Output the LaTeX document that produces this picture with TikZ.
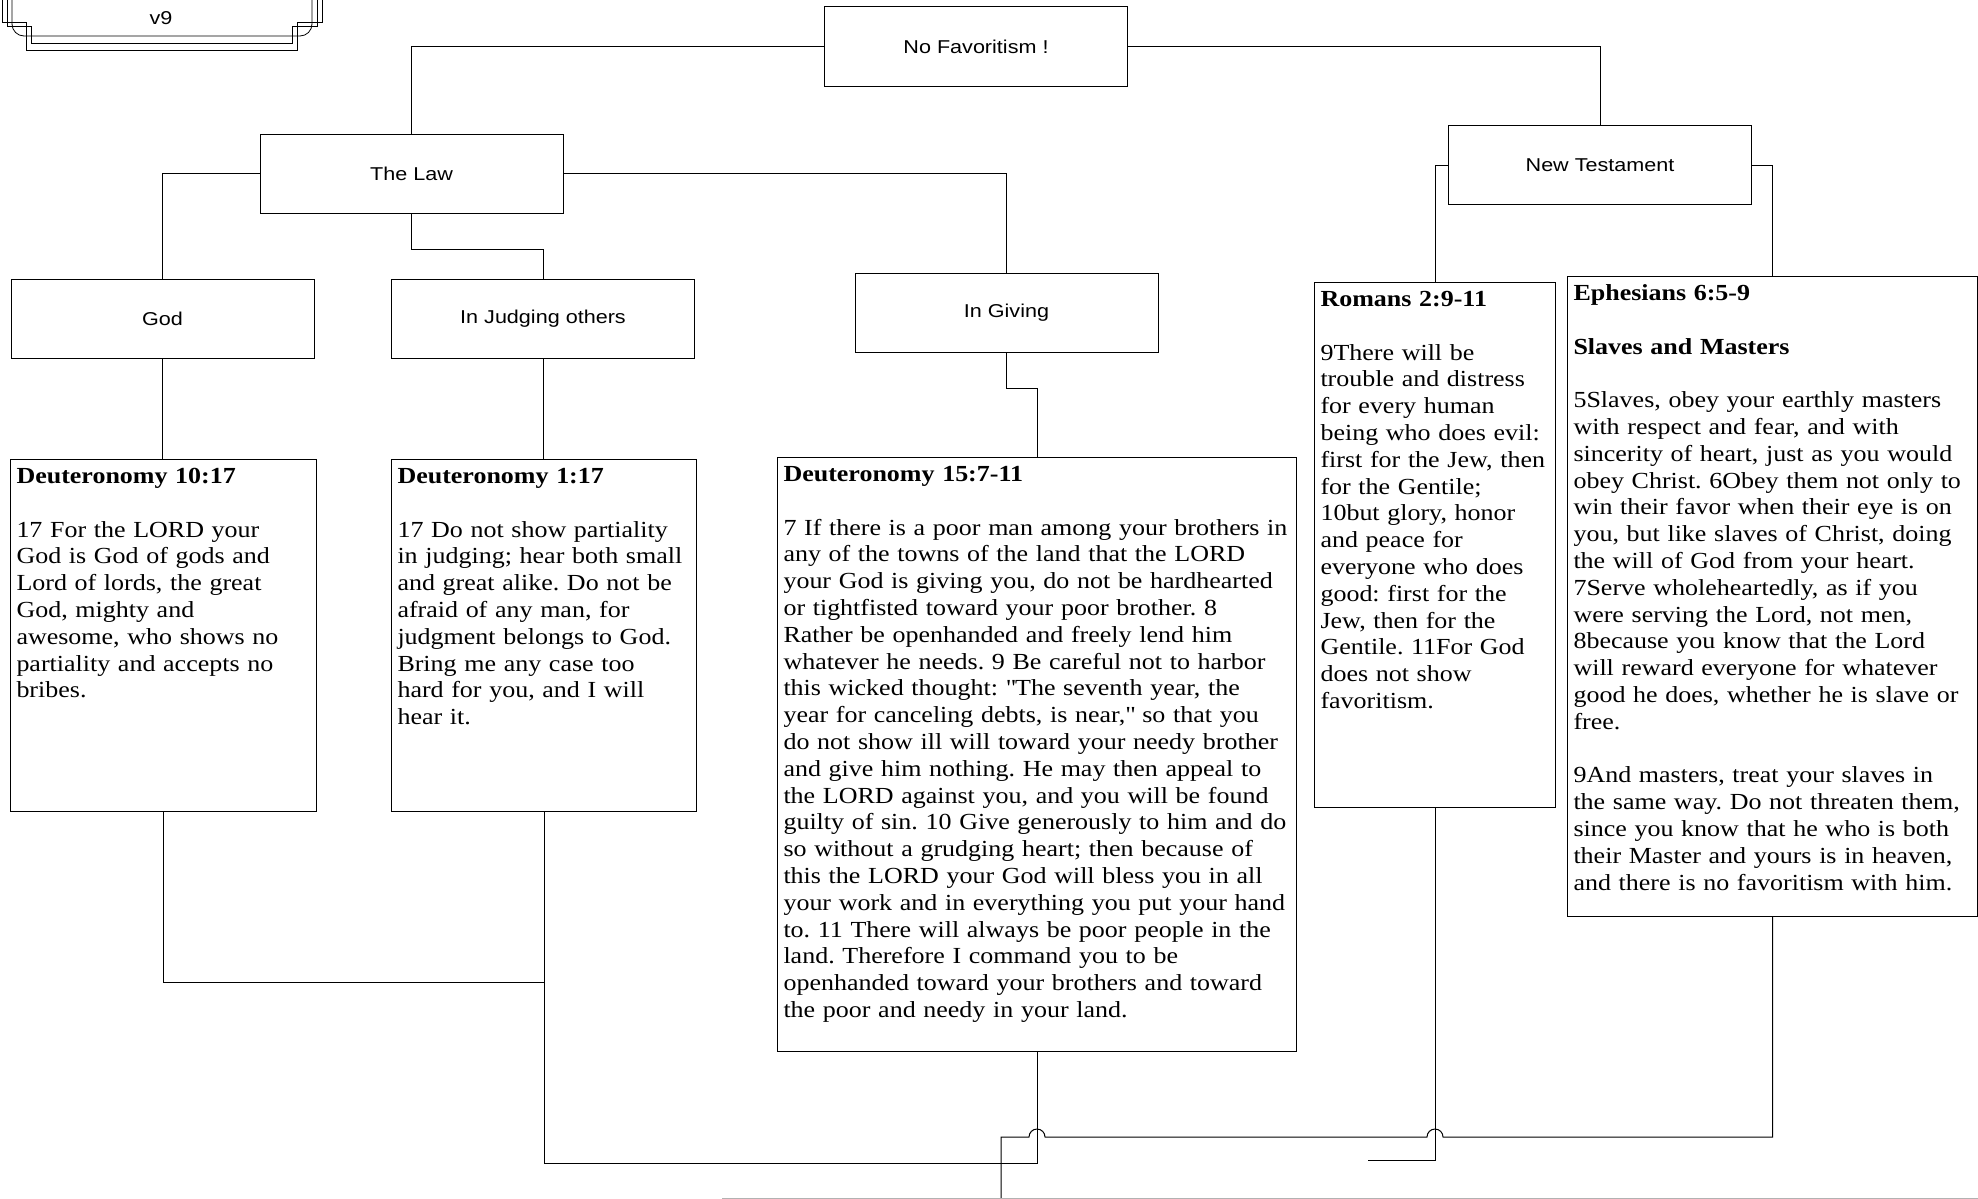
\documentclass[tikz,border=0pt]{standalone}
\usepackage{fontspec}
\setmainfont[FakeStretch=1.13]{Liberation Serif}
\newfontfamily\labelfont[FakeStretch=1.16]{Liberation Sans}
\usetikzlibrary{calc}
\frenchspacing

\begin{document}
\begin{tikzpicture}[x=1pt, y=-1pt, line width=1pt,
        topic/.style={draw, minimum width=303pt, minimum height=79pt, inner sep=0pt, font=\labelfont\fontsize{18.6}{22}\selectfont},
        verse/.style={draw, anchor=north west, align=left, inner xsep=6pt, inner ysep=8pt, text height=16pt, font=\fontsize{23}{26.8}\selectfont},
        frame/.style={line width=0.8pt}]
        \path[use as bounding box, fill=white] (0,0) rectangle (1978,1199);

        \draw[frame] (2,0) -- (2,22) -- (26,22) -- (26,50) -- (297,50) -- (297,22) -- (322,22) -- (322,0);
        \draw[frame] (7,0) -- (7,26) -- (31,26) -- (31,43) -- (292,43) -- (292,26) -- (317,26) -- (317,0);
        \draw[frame, rounded corners=12pt] (12,0) -- (12,36) -- (312,36) -- (312,0);
        \node[font=\labelfont\fontsize{18.6}{22}\selectfont] (version) at (161,18) {v9};

        \node[topic] (nofav) at (976,46.5) {No Favoritism !};
        \node[topic] (law) at (411.5,173.5) {The Law};
        \node[topic] (nt) at (1600,165) {New Testament};
        \node[topic] (god) at (162.5,319) {God};
        \node[topic] (judging) at (543,319) {In Judging others};
        \node[topic] (giving) at (1006.5,312.5) {In Giving};

        \node[verse, text width=294pt, text depth=320pt] (deut10) at (10,459) {\textbf{Deuteronomy 10:17}\\[\baselineskip]
                17 For the LORD your\\ God is God of gods and\\ Lord of lords, the great\\ God, mighty and\\
                awesome, who shows no\\ partiality and accepts no\\ bribes.};
        \node[verse, text width=293pt, text depth=320pt] (deut1) at (391,459) {\textbf{Deuteronomy 1:17}\\[\baselineskip]
                17 Do not show partiality\\ in judging; hear both small\\ and great alike. Do not be\\ afraid of any man, for\\
                judgment belongs to God.\\ Bring me any case too\\ hard for you, and I will\\ hear it.};
        \node[verse, text width=507pt, text depth=562pt] (deut15) at (777,457) {\textbf{Deuteronomy 15:7-11}\\[\baselineskip]
                7 If there is a poor man among your brothers in\\ any of the towns of the land that the LORD\\
                your God is giving you, do not be hardhearted\\ or tightfisted toward your poor brother. 8\\
                Rather be openhanded and freely lend him\\ whatever he needs. 9 Be careful not to harbor\\
                this wicked thought: \textquotedbl The seventh year, the\\ year for canceling debts, is near,\textquotedbl{} so that you\\
                do not show ill will toward your needy brother\\ and give him nothing. He may then appeal to\\
                the LORD against you, and you will be found\\ guilty of sin. 10 Give generously to him and do\\
                so without a grudging heart; then because of\\ this the LORD your God will bless you in all\\
                your work and in everything you put your hand\\ to. 11 There will always be poor people in the\\
                land. Therefore I command you to be\\ openhanded toward your brothers and toward\\
                the poor and needy in your land.};
        \node[verse, text width=229pt, text depth=493pt] (rom) at (1314,282) {\textbf{Romans 2:9-11}\\[\baselineskip]
                9There will be\\ trouble and distress\\ for every human\\ being who does evil:\\ first for the Jew, then\\
                for the Gentile;\\ 10but glory, honor\\ and peace for\\ everyone who does\\ good: first for the\\
                Jew, then for the\\ Gentile. 11For God\\ does not show\\ favoritism.};
        \node[verse, text width=398pt, text depth=608pt] (eph) at (1567,276) {\textbf{Ephesians 6:5-9}\\[\baselineskip]
                \textbf{Slaves and Masters}\\[\baselineskip]
                5Slaves, obey your earthly masters\\ with respect and fear, and with\\ sincerity of heart, just as you would\\
                obey Christ. 6Obey them not only to\\ win their favor when their eye is on\\ you, but like slaves of Christ, doing\\
                the will of God from your heart.\\ 7Serve wholeheartedly, as if you\\ were serving the Lord, not men,\\
                8because you know that the Lord\\ will reward everyone for whatever\\ good he does, whether he is slave or\\
                free.\\[\baselineskip]
                9And masters, treat your slaves in\\ the same way. Do not threaten them,\\ since you know that he who is both\\
                their Master and yours is in heaven,\\ and there is no favoritism with him.};

        \draw (nofav.west) -| (law.north);
        \draw (nofav.east) -| (nt.north);
        \draw (law.west) -| (god.north);
        \draw (law.south) -- ++(0,36) -| (judging.north);
        \draw (law.east) -| (giving.north);
        \draw (nt.west) -| (rom.north);
        \draw (nt.east) -| (eph.north);
        \draw (god.south) -- (god.south |- deut10.north);
        \draw (judging.south) -- (judging.south |- deut1.north);
        \draw (giving.south) -- ++(0,36) -| (deut15.north);

        \draw (deut10.south) -- ++(0,170) -| (deut1.south);
        \draw (deut1.south) -- ++(0,351) -| (deut15.south);
        \coordinate (romEnd) at (1368,1160);
        \draw (rom.south) |- (romEnd);
        \coordinate (ephTurn) at (1001,1137);
        \coordinate (ephEnd) at (1001,1199);
        \draw (eph.south) |- ($(rom.south |- ephTurn)+(8,0)$) arc[start angle=0, end angle=180, radius=8pt]
                -- ($(deut15.south |- ephTurn)+(8,0)$) arc[start angle=0, end angle=180, radius=8pt]
                -- (ephTurn) -- (ephEnd);
        \coordinate (edgeL) at (722,1198);
        \coordinate (edgeR) at (1978,1198);
        \draw[gray!60, line width=0.8pt] (edgeL) -- (edgeR);
\end{tikzpicture}
\end{document}
